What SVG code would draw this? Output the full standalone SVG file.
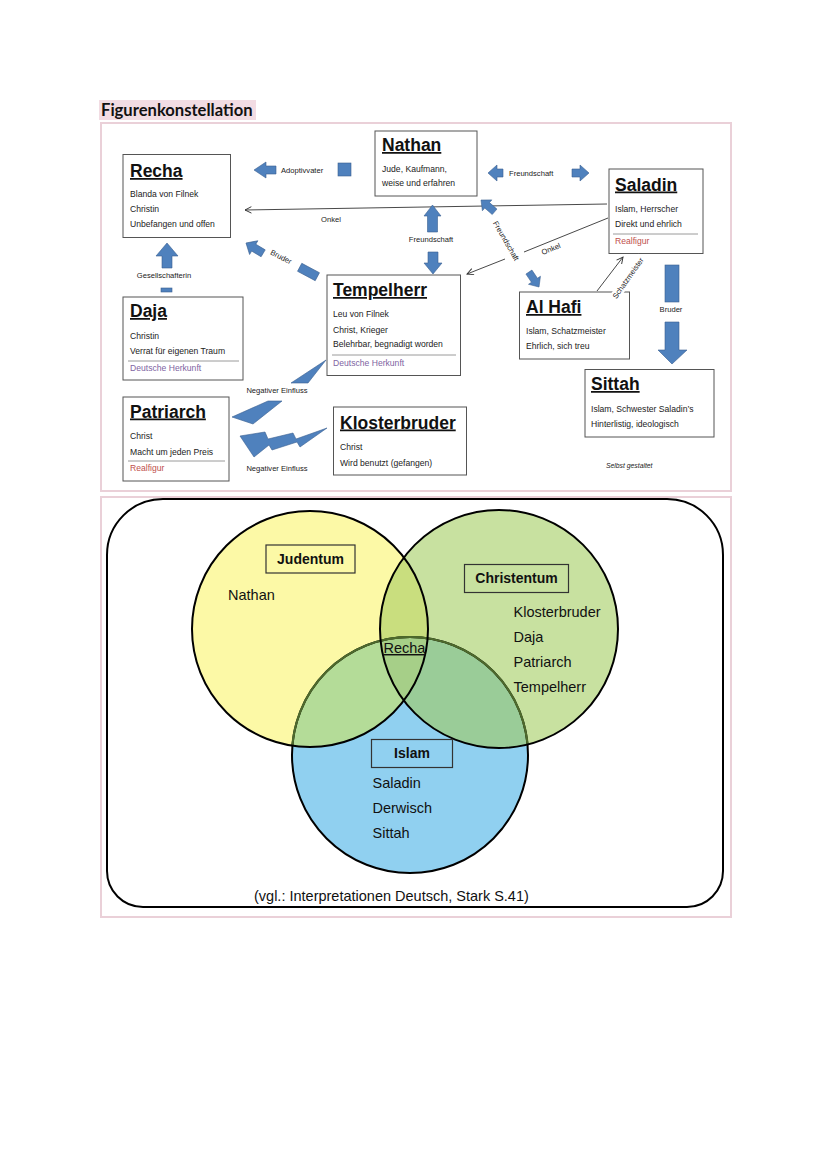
<svg xmlns="http://www.w3.org/2000/svg" width="828" height="1171" viewBox="0 0 828 1171">
<defs>
<style>
.box{fill:#fff;stroke:#555;stroke-width:1}
.ti{font-family:"Liberation Sans",Arial,sans-serif;font-weight:bold;font-size:17.5px;fill:#111;text-decoration:underline}
.bd{font-family:"Liberation Sans",Arial,sans-serif;font-size:8.6px;fill:#222}
.sm{font-family:"Liberation Sans",Arial,sans-serif;font-size:7.6px;fill:#222}
.red{fill:#c0504d}
.pur{fill:#8064a2}
.sep{stroke:#9a9a9a;stroke-width:1}
.ar{fill:#4f81bd;stroke:#3a6090;stroke-width:0.6}
.ln{stroke:#333;stroke-width:0.9;fill:none}
.frame{fill:none;stroke:#ead0d8;stroke-width:2}
.vt{font-family:"Liberation Sans",Arial,sans-serif;font-size:14.5px;fill:#111}
.vb{font-family:"Liberation Sans",Arial,sans-serif;font-size:14px;font-weight:bold;fill:#111}
.lb{fill:none;stroke:#333;stroke-width:1.2}
</style>
<marker id="oa" viewBox="0 0 10 10" refX="9" refY="5" markerWidth="8" markerHeight="8" orient="auto" markerUnits="userSpaceOnUse">
<path d="M1,1 L9,5 L1,9" fill="none" stroke="#333" stroke-width="1.2"/>
</marker>
<path id="la" d="M0,0 L9,-8 L9,-4 L20,-4 L20,4 L9,4 L9,8 Z"/>
<clipPath id="cY"><circle cx="310" cy="629" r="118"/></clipPath>
<clipPath id="cG"><circle cx="499" cy="629" r="119"/></clipPath>
<clipPath id="cYG" clip-path="url(#cY)"><circle cx="499" cy="629" r="119"/></clipPath>
</defs>
<rect width="828" height="1171" fill="#fff"/>

<!-- title -->
<g id="title">
<rect x="99" y="100" width="157" height="20" fill="#f2dce3"/>
<text x="101" y="115.5" font-family="Lato,'Liberation Sans',sans-serif" font-weight="bold" font-size="16.6" fill="#111">Figurenkonstellation</text>
</g>

<rect class="frame" x="101" y="123" width="630" height="368"/>
<rect class="frame" x="101" y="497" width="630" height="420"/>

<!-- connectors -->
<g id="connectors">
<!-- Adoptivvater -->
<path class="ar" d="M254,170 L266,162 L266,166 L276,166 L276,174 L266,174 L266,178 Z"/>
<rect class="ar" x="338" y="163" width="13" height="13"/>
<text class="sm" x="281" y="172.5">Adoptivvater</text>
<!-- Freundschaft Nathan-Saladin -->
<path class="ar" d="M488,173 L497,165 L497,169 L503,169 L503,177 L497,177 L497,181 Z"/>
<path class="ar" d="M589,173 L580,165 L580,169 L572,169 L572,177 L580,177 L580,181 Z"/>
<text class="sm" x="509" y="175.5">Freundschaft</text>
<!-- Onkel Saladin-Recha -->
<line class="ln" x1="607" y1="204" x2="245" y2="210" marker-end="url(#oa)"/>
<text class="sm" x="321" y="221.5">Onkel</text>
<!-- Freundschaft Nathan-Tempelherr -->
<path class="ar" d="M432.5,205 L441,216 L437.5,216 L437.5,232 L427.5,232 L427.5,216 L424,216 Z"/>
<path class="ar" d="M433,274 L442,263 L438,263 L438,252 L428,252 L428,263 L424,263 Z"/>
<text class="sm" x="431" y="241.5" text-anchor="middle">Freundschaft</text>
<!-- Freundschaft Nathan-Al Hafi -->
<use href="#la" class="ar" transform="translate(481,200) rotate(41) scale(0.9)"/>
<use href="#la" class="ar" transform="translate(539,287) rotate(236) scale(0.9)"/>
<text class="sm" transform="translate(506,241) rotate(60)" text-anchor="middle" y="2.5">Freundschaft</text>
<!-- Onkel Saladin-Tempelherr -->
<line class="ln" x1="608" y1="218" x2="524" y2="252"/>
<line class="ln" x1="505" y1="259" x2="467" y2="274" marker-end="url(#oa)"/>
<text class="sm" transform="translate(551,249) rotate(-22)" text-anchor="middle" y="2.5">Onkel</text>
<!-- Schatzmeister line -->
<line class="ln" x1="597" y1="291" x2="623" y2="257" marker-end="url(#oa)"/>
<!-- Bruder Saladin-Sittah -->
<rect class="ar" x="665" y="265" width="14" height="37"/>
<text class="sm" x="671" y="311.5" text-anchor="middle">Bruder</text>
<path class="ar" d="M665,322 L679,322 L679,350 L687,350 L672,364 L658,350 L665,350 Z"/>
<!-- Bruder Recha-Tempelherr -->
<use href="#la" class="ar" transform="translate(246,243) rotate(31)"/>
<rect class="ar" x="-10" y="-4.5" width="20" height="9" transform="translate(308.5,272) rotate(28)"/>
<text class="sm" transform="translate(281,257) rotate(27)" text-anchor="middle" y="2.5">Bruder</text>
<!-- Gesellschafterin -->
<path class="ar" d="M167,243 L178,256 L172,256 L172,268 L162,268 L162,256 L156,256 Z"/>
<text class="sm" x="164" y="277.5" text-anchor="middle">Gesellschafterin</text>
<rect class="ar" x="161" y="288" width="11" height="4"/>
<!-- Negativer Einfluss Tempelherr-Patriarch -->
<polygon class="ar" points="326,360 308,383 291,383"/>
<text class="sm" x="277" y="392.5" text-anchor="middle">Negativer Einfluss</text>
<polygon class="ar" points="268,401 282,401 253,424 232,417"/>
<!-- Negativer Einfluss Klosterbruder-Patriarch -->
<polygon class="ar" points="240,436 265,432 268,439 293,433 296,439 327,428 300,447 297,442 272,450 269,445 254,457"/>
<text class="sm" x="277" y="470.5" text-anchor="middle">Negativer Einfluss</text>
</g>

<!-- nodes -->
<g id="recha">
<rect class="box" x="123" y="154.5" width="107.5" height="83"/>
<text class="ti" x="130" y="177">Recha</text>
<text class="bd" x="130" y="197">Blanda von Filnek</text>
<text class="bd" x="130" y="212">Christin</text>
<text class="bd" x="130" y="227">Unbefangen und offen</text>
</g>
<g id="nathan">
<rect class="box" x="375" y="131" width="102" height="65"/>
<text class="ti" x="382" y="151">Nathan</text>
<text class="bd" x="382" y="171.5">Jude, Kaufmann,</text>
<text class="bd" x="382" y="186">weise und erfahren</text>
</g>
<g id="saladin">
<rect class="box" x="609" y="169" width="94" height="84.5"/>
<text class="ti" x="615" y="190.5">Saladin</text>
<text class="bd" x="615" y="212">Islam, Herrscher</text>
<text class="bd" x="615" y="226.5">Direkt und ehrlich</text>
<line class="sep" x1="613" y1="234" x2="698" y2="234"/>
<text class="bd red" x="615" y="244">Realfigur</text>
</g>
<g id="daja">
<rect class="box" x="123" y="297" width="120" height="83"/>
<text class="ti" x="130" y="317">Daja</text>
<text class="bd" x="130" y="339">Christin</text>
<text class="bd" x="130" y="354">Verrat für eigenen Traum</text>
<line class="sep" x1="128" y1="361" x2="239" y2="361"/>
<text class="bd pur" x="130" y="370.5">Deutsche Herkunft</text>
</g>
<g id="tempelherr">
<rect class="box" x="327" y="275" width="133.5" height="100.5"/>
<text class="ti" x="333" y="296">Tempelherr</text>
<text class="bd" x="333" y="316.5">Leu von Filnek</text>
<text class="bd" x="333" y="332.5">Christ, Krieger</text>
<text class="bd" x="333" y="347">Belehrbar, begnadigt worden</text>
<line class="sep" x1="332" y1="355" x2="456" y2="355"/>
<text class="bd pur" x="333" y="365.5">Deutsche Herkunft</text>
</g>
<g id="alhafi">
<rect class="box" x="519.5" y="292" width="110" height="67"/>
<text class="ti" x="526" y="313">Al Hafi</text>
<text class="bd" x="526" y="334">Islam, Schatzmeister</text>
<text class="bd" x="526" y="349">Ehrlich, sich treu</text>
</g>
<g id="sittah">
<rect class="box" x="585" y="369.5" width="129" height="67.5"/>
<text class="ti" x="591" y="390">Sittah</text>
<text class="bd" x="591" y="412">Islam, Schwester Saladin’s</text>
<text class="bd" x="591" y="427">Hinterlistig, ideologisch</text>
</g>
<g id="patriarch">
<rect class="box" x="123" y="397" width="106" height="84"/>
<text class="ti" x="130" y="417.5">Patriarch</text>
<text class="bd" x="130" y="439">Christ</text>
<text class="bd" x="130" y="455">Macht um jeden Preis</text>
<line class="sep" x1="128" y1="461" x2="225" y2="461"/>
<text class="bd red" x="130" y="471">Realfigur</text>
</g>
<g id="klosterbruder">
<rect class="box" x="333.5" y="407" width="133" height="68"/>
<text class="ti" x="340" y="428.5">Klosterbruder</text>
<text class="bd" x="340" y="450">Christ</text>
<text class="bd" x="340" y="466">Wird benutzt (gefangen)</text>
</g>
<!-- Schatzmeister label over boxes -->
<g id="schatzmeister-label" transform="translate(628,278) rotate(-55)">
<rect x="-26" y="-5" width="52" height="10" fill="#fff"/>
<text class="sm" text-anchor="middle" y="2.7" font-size="8">Schatzmeister</text>
</g>
<text x="606" y="467.5" font-family="'Liberation Sans',Arial,sans-serif" font-style="italic" font-size="6.8" fill="#222">Selbst gestaltet</text>

<!-- Venn -->
<g id="venn">
<path d="M163,499 L667,499 A56,56 0 0 1 723,555 L723,871 A36,36 0 0 1 687,907 L143,907 A36,36 0 0 1 107,871 L107,555 A56,56 0 0 1 163,499 Z" fill="#fff" stroke="#000" stroke-width="2"/>
<circle cx="410" cy="755" r="118" fill="#90d0f0"/>
<circle cx="310" cy="629" r="118" fill="#fcf9a6"/>
<circle cx="499" cy="629" r="119" fill="#c8e1a0"/>
<circle cx="499" cy="629" r="119" fill="#c9de7e" clip-path="url(#cY)"/>
<circle cx="410" cy="755" r="118" fill="#b4dc98" clip-path="url(#cY)"/>
<circle cx="410" cy="755" r="118" fill="#9acc98" clip-path="url(#cG)"/>
<circle cx="410" cy="755" r="118" fill="#a6cf88" clip-path="url(#cYG)"/>
<circle cx="410" cy="755" r="118" fill="none" stroke="#000" stroke-width="2"/>
<circle cx="410" cy="755" r="118" fill="none" stroke="#4e6a2c" stroke-width="2.2" clip-path="url(#cY)"/>
<circle cx="410" cy="755" r="118" fill="none" stroke="#4e6a2c" stroke-width="2.2" clip-path="url(#cG)"/>
<circle cx="310" cy="629" r="118" fill="none" stroke="#000" stroke-width="2"/>
<circle cx="499" cy="629" r="119" fill="none" stroke="#000" stroke-width="2"/>
</g>
<g id="judentum">
<rect class="lb" x="266" y="545" width="89" height="28"/>
<text class="vb" x="310.5" y="563.5" text-anchor="middle">Judentum</text>
<text class="vt" x="228" y="600">Nathan</text>
</g>
<g id="christentum">
<rect class="lb" x="464.5" y="564.5" width="104" height="28"/>
<text class="vb" x="516.5" y="583" text-anchor="middle">Christentum</text>
<text class="vt" x="513.5" y="617">Klosterbruder</text>
<text class="vt" x="513.5" y="642">Daja</text>
<text class="vt" x="513.5" y="667">Patriarch</text>
<text class="vt" x="513.5" y="692">Tempelherr</text>
</g>
<g id="recha-venn">
<text class="vt" x="383.5" y="653" text-decoration="underline">Recha</text>
</g>
<g id="islam">
<rect class="lb" x="371.5" y="739.5" width="81" height="28"/>
<text class="vb" x="412" y="758" text-anchor="middle">Islam</text>
<text class="vt" x="372.5" y="787.5">Saladin</text>
<text class="vt" x="372.5" y="812.5">Derwisch</text>
<text class="vt" x="372.5" y="837.5">Sittah</text>
</g>
<text class="vt" x="254" y="901">(vgl.: Interpretationen Deutsch, Stark S.41)</text>
</svg>
